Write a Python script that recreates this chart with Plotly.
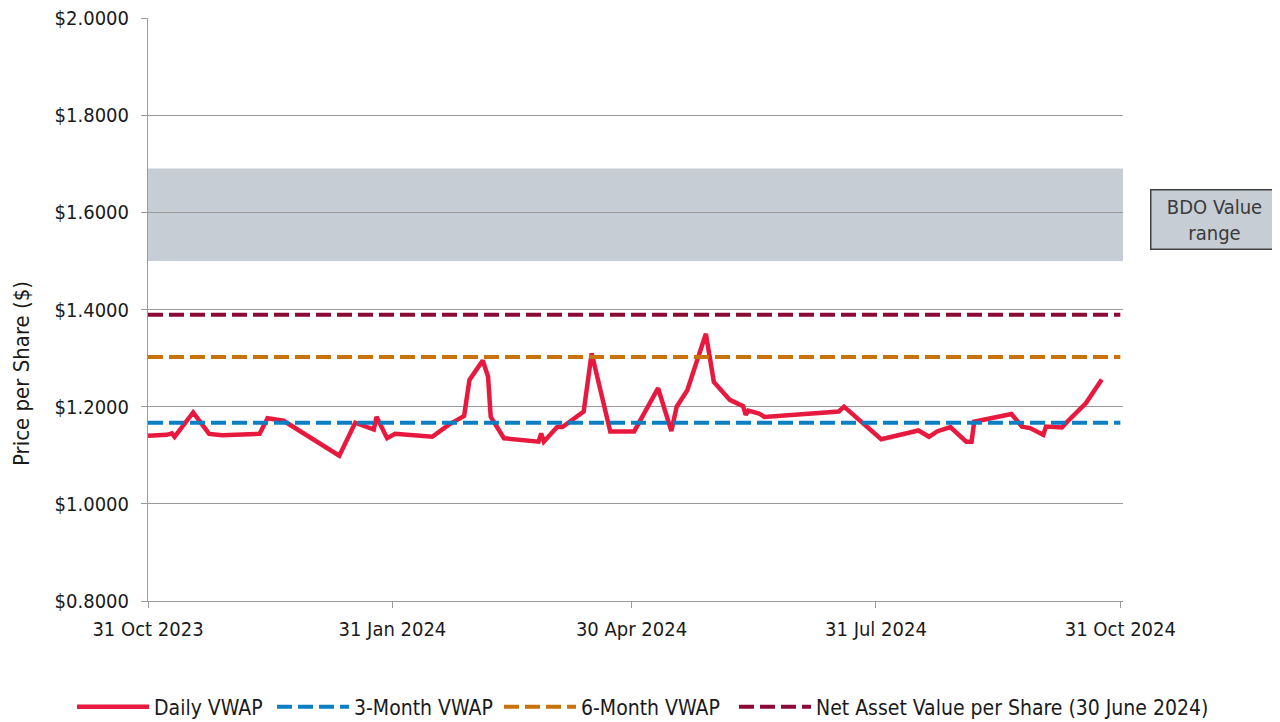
import plotly.graph_objects as go

# ---- Data ----
vwap_dates = [
    "2023-10-31", "2023-11-07", "2023-11-09", "2023-11-10", "2023-11-17", "2023-11-23",
    "2023-11-28", "2023-12-12", "2023-12-15", "2023-12-21", "2024-01-11", "2024-01-17",
    "2024-01-24", "2024-01-25", "2024-01-29", "2024-02-01", "2024-02-15", "2024-02-21",
    "2024-02-27", "2024-02-29", "2024-03-05", "2024-03-07", "2024-03-08", "2024-03-13",
    "2024-03-26", "2024-03-27", "2024-03-28", "2024-04-02", "2024-04-04", "2024-04-12",
    "2024-04-15", "2024-04-22", "2024-05-01", "2024-05-10", "2024-05-15", "2024-05-17",
    "2024-05-21", "2024-05-28", "2024-05-31", "2024-06-06", "2024-06-11", "2024-06-12",
    "2024-06-13", "2024-06-17", "2024-06-19", "2024-07-17", "2024-07-19", "2024-08-02",
    "2024-08-16", "2024-08-20", "2024-08-23", "2024-08-28", "2024-09-03", "2024-09-05",
    "2024-09-06", "2024-09-20", "2024-09-24", "2024-09-27", "2024-10-02", "2024-10-03",
    "2024-10-09", "2024-10-11", "2024-10-18", "2024-10-24",
]
vwap_values = [
    1.140, 1.142, 1.145, 1.138, 1.188, 1.144,
    1.141, 1.144, 1.176, 1.171, 1.099, 1.167,
    1.153, 1.179, 1.135, 1.144, 1.138, 1.162,
    1.181, 1.255, 1.295, 1.262, 1.179, 1.135,
    1.128, 1.145, 1.128, 1.158, 1.158, 1.190,
    1.310, 1.149, 1.149, 1.238, 1.150, 1.200,
    1.234, 1.350, 1.251, 1.214, 1.201, 1.183,
    1.192, 1.186, 1.179, 1.190, 1.200, 1.133,
    1.151, 1.138, 1.149, 1.158, 1.128, 1.128,
    1.169, 1.185, 1.159, 1.156, 1.142, 1.159,
    1.157, 1.169, 1.207, 1.256,
]

period = ["2023-10-31", "2024-10-31"]
vwap_3m = 1.167
vwap_6m = 1.302
nav_per_share = 1.389
bdo_low, bdo_high = 1.50, 1.69

y_ticks = [0.8, 1.0, 1.2, 1.4, 1.6, 1.8, 2.0]
y_ticktext = ["$0.8000", "$1.0000", "$1.2000", "$1.4000", "$1.6000", "$1.8000", "$2.0000"]
x_ticks = ["2023-10-31", "2024-01-31", "2024-04-30", "2024-07-31", "2024-10-31"]
x_ticktext = ["31 Oct 2023", "31 Jan 2024", "30 Apr 2024", "31 Jul 2024", "31 Oct 2024"]

FONT = "DejaVu Sans Condensed"
TXT = "#1a1a1a"
GRID = "#9a9a9a"

# The page body adds an 8px offset, so the figure is sized to fit the window.
FIG_W, FIG_H = 1272, 714
PLOT_L, PLOT_T, PLOT_W, PLOT_H = 140, 10, 975, 583

fig = go.Figure()

fig.add_trace(go.Scatter(x=vwap_dates, y=vwap_values, mode="lines", name="Daily VWAP",
                         line=dict(color="#E8193F", width=4.5), legend="legend"))
fig.add_trace(go.Scatter(x=period, y=[vwap_3m, vwap_3m], mode="lines", name="3-Month VWAP",
                         line=dict(color="#0B7FC1", width=4, dash="15px,6px"), legend="legend2"))
fig.add_trace(go.Scatter(x=period, y=[vwap_6m, vwap_6m], mode="lines", name="6-Month VWAP",
                         line=dict(color="#C8730A", width=4, dash="15px,6px"), legend="legend3"))
fig.add_trace(go.Scatter(x=period, y=[nav_per_share, nav_per_share], mode="lines",
                         name="Net Asset Value per Share (30 June 2024)",
                         line=dict(color="#8C0B35", width=4, dash="15px,6px"), legend="legend4"))

fig.add_shape(type="rect", xref="paper", yref="y", x0=0, x1=1, y0=bdo_low, y1=bdo_high,
              fillcolor="#C6CDD5", line_width=0, layer="below")

fig.add_annotation(xref="paper", yref="paper", x=(1150 - 148) / PLOT_W, xanchor="left",
                   y=(601 - 219) / PLOT_H, yanchor="middle",
                   text="BDO Value<br>range", showarrow=False,
                   font=dict(family=FONT, size=20, color="#3a3a3a"),
                   bgcolor="#C6CDD5", bordercolor="#404040", borderwidth=1.5,
                   borderpad=3, width=120, height=52, align="center")

# y-axis title (placed lower than centre, as in the reference)
fig.add_annotation(xref="paper", yref="paper", x=(21 - 148) / PLOT_W, xanchor="center",
                   y=(601 - 374) / PLOT_H, yanchor="middle", textangle=-90,
                   text="Price per Share ($)", showarrow=False,
                   font=dict(family=FONT, size=22, color=TXT))


def legend_at(px_left):
    return dict(orientation="h", xref="container", yref="container",
                x=px_left / FIG_W, xanchor="left", y=0.021, yanchor="middle",
                font=dict(family=FONT, size=21, color=TXT),
                itemwidth=72, bgcolor="rgba(0,0,0,0)")


fig.update_layout(
    width=FIG_W, height=FIG_H,
    margin=dict(l=PLOT_L, r=FIG_W - PLOT_L - PLOT_W, t=PLOT_T, b=FIG_H - PLOT_T - PLOT_H,
                autoexpand=False),
    paper_bgcolor="white", plot_bgcolor="white",
    font=dict(family=FONT, size=20, color=TXT),
    showlegend=True,
    legend=legend_at(64),
    legend2=legend_at(264),
    legend3=legend_at(491),
    legend4=legend_at(726),
    xaxis=dict(type="date", range=["2023-10-31", "2024-11-01"], automargin=False,
               tickvals=x_ticks, ticktext=x_ticktext,
               showgrid=False, zeroline=False,
               showline=True, linecolor=GRID, linewidth=1,
               ticks="outside", ticklen=6, tickcolor=GRID, ticklabelstandoff=4,
               ticklabeloverflow="allow",
               tickfont=dict(family=FONT, size=20, color=TXT)),
    yaxis=dict(range=[0.8, 2.0], tickvals=y_ticks, ticktext=y_ticktext, automargin=False,
               showgrid=True, gridcolor=GRID, gridwidth=1, zeroline=False,
               showline=True, linecolor=GRID, linewidth=1,
               ticks="outside", ticklen=6, tickcolor=GRID, ticklabelstandoff=8,
               ticklabeloverflow="allow",
               tickfont=dict(family=FONT, size=20, color=TXT)),
)

fig.write_html("out.html")
